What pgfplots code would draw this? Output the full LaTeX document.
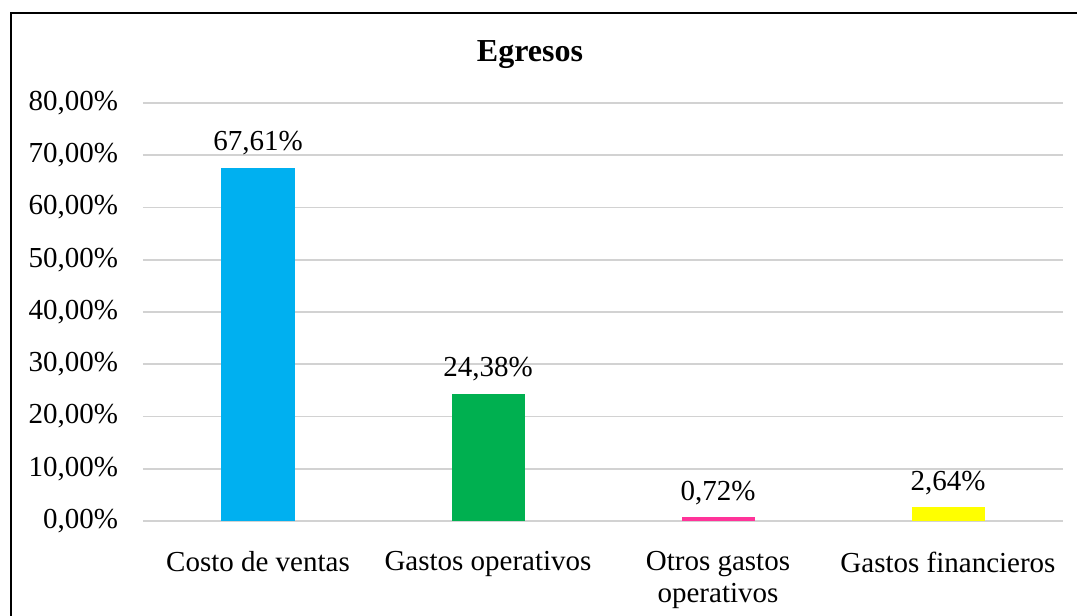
\documentclass[border=0pt]{standalone}
\usepackage{fontspec}
\setmainfont{Liberation Serif}
\usepackage{pgfplots}
\pgfplotsset{compat=1.18}
\definecolor{cblue}{RGB}{0,176,240}
\definecolor{cgreen}{RGB}{0,176,80}
\definecolor{cpink}{RGB}{255,51,153}
\definecolor{cyellow}{RGB}{255,255,0}
\definecolor{cgrid}{RGB}{210,210,210}
\begin{document}
\begin{tikzpicture}
\useasboundingbox (0pt,0pt) rectangle (538.5pt,308pt);
\draw[line width=1pt] (5.5pt,-2pt) -- (5.5pt,301.5pt) -- (545pt,301.5pt);
\node[anchor=base,font=\fontsize{16}{18}\selectfont\bfseries] at (265pt,277pt) {Egresos};
\begin{axis}[
  at={(71.5pt,47.5pt)}, anchor=south west,
  scale only axis, width=460pt, height=209pt,
  xmin=-0.5, xmax=3.5, ymin=0, ymax=80,
  ytick={0,10,...,80},
  xtick={0,1,2,3},
  xticklabels={Costo de ventas,Gastos operativos,{Otros gastos\\operativos},Gastos financieros},
  axis line style={draw=none},
  tick style={draw=none},
  ymajorgrids, grid style={cgrid,line width=0.8pt},
  font=\fontsize{14.5}{16}\selectfont,
  /pgf/number format/assume math mode=true,
  /pgf/number format/.cd, fixed, fixed zerofill, precision=2, use comma,
  /pgfplots/.cd,
  yticklabel={\pgfmathprintnumber{\tick}\%},
  yticklabel style={anchor=east, xshift=-9pt},
  xticklabel style={align=center, anchor=north, yshift=-7.5pt},
  ybar, bar width=36.5pt, bar shift=0pt,
  nodes near coords={\pgfmathprintnumber{\pgfplotspointmeta}\%},
  nodes near coords style={anchor=base, yshift=8.5pt, inner sep=0pt, font=\fontsize{14.5}{16}\selectfont, black},
]
\addplot[draw=none, fill=cblue] coordinates {(0,67.61)};
\addplot[draw=none, fill=cgreen] coordinates {(1,24.38)};
\addplot[draw=none, fill=cpink] coordinates {(2,0.72)};
\addplot[draw=none, fill=cyellow] coordinates {(3,2.64)};
\end{axis}
\end{tikzpicture}
\end{document}
